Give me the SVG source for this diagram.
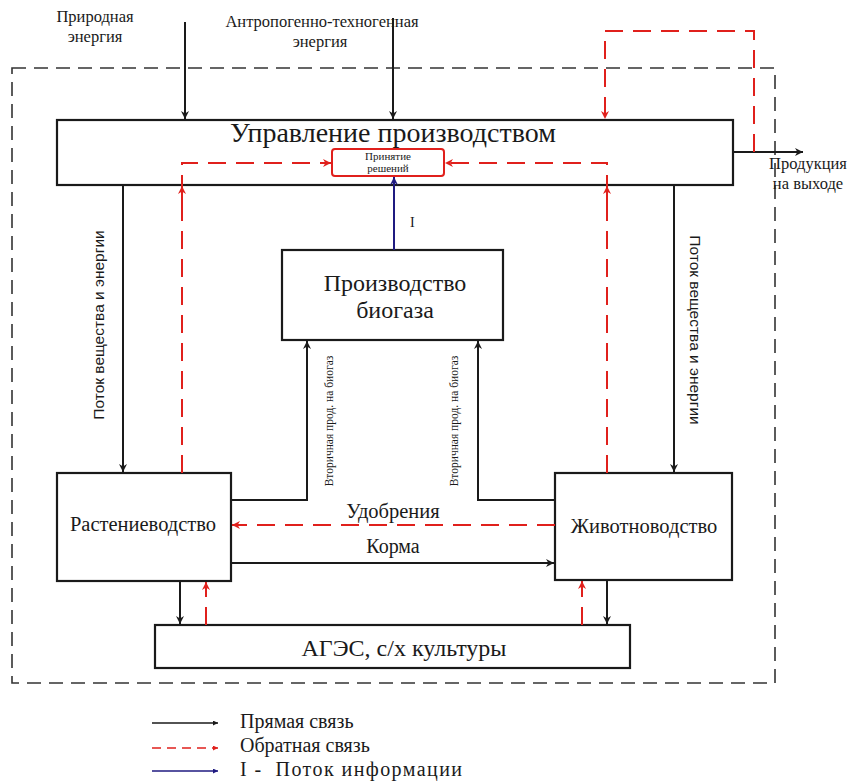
<svg xmlns="http://www.w3.org/2000/svg" width="851" height="783" viewBox="0 0 851 783">
<defs>
<style>
.box{fill:#fff;stroke:#1a1a1a;stroke-width:2.2}
.ln{fill:none;stroke:#1a1a1a;stroke-width:2}
.red{fill:none;stroke:#e0201c;stroke-width:2;stroke-dasharray:18,10}
.blue{fill:none;stroke:#1f1a80;stroke-width:2}
.outer{fill:none;stroke:#333;stroke-width:1.6;stroke-dasharray:14,8}
text.t{font-family:'Liberation Serif',serif;fill:#1a1a1a}
text.s{font-family:'Liberation Sans',sans-serif;fill:#1a1a1a}
</style>
<marker id="ab" viewBox="0 0 10 10" refX="10" refY="5" markerWidth="8" markerHeight="8" markerUnits="userSpaceOnUse" orient="auto"><path d="M0,0 L10,5 L0,10 L3,5 Z" fill="#1a1a1a"/></marker>
<marker id="ar" viewBox="0 0 10 10" refX="10" refY="5" markerWidth="8" markerHeight="8" markerUnits="userSpaceOnUse" orient="auto"><path d="M0,0 L10,5 L0,10 L3,5 Z" fill="#e0201c"/></marker>
<marker id="abl" viewBox="0 0 10 10" refX="10" refY="5" markerWidth="8" markerHeight="8" markerUnits="userSpaceOnUse" orient="auto"><path d="M0,0 L10,5 L0,10 L3,5 Z" fill="#1f1a80"/></marker>
<marker id="abs" viewBox="0 0 10 10" refX="10" refY="5" markerWidth="5" markerHeight="5" markerUnits="userSpaceOnUse" orient="auto"><path d="M0,0 L10,5 L0,10 Z" fill="#1a1a1a"/></marker>
<marker id="ars" viewBox="0 0 10 10" refX="10" refY="5" markerWidth="5" markerHeight="5" markerUnits="userSpaceOnUse" orient="auto"><path d="M0,0 L10,5 L0,10 Z" fill="#e0201c"/></marker>
<marker id="abls" viewBox="0 0 10 10" refX="10" refY="5" markerWidth="5" markerHeight="5" markerUnits="userSpaceOnUse" orient="auto"><path d="M0,0 L10,5 L0,10 Z" fill="#1f1a80"/></marker>
</defs>
<rect width="851" height="783" fill="#fff"/>
<rect class="outer" x="12" y="68" width="763" height="615"/>

<g id="inputs" font-size="16.5" text-anchor="middle">
<text class="t" style="font-family:'Liberation Serif',serif" x="95" y="22">Природная</text>
<text class="t" style="font-family:'Liberation Serif',serif" x="95" y="42">энергия</text>
<text class="t" style="font-family:'Liberation Serif',serif" x="322" y="27">Антропогенно-техногенная</text>
<text class="t" style="font-family:'Liberation Serif',serif" x="320" y="47">энергия</text>
</g>

<g id="management">
<rect class="box" x="57" y="120" width="676" height="65"/>
<text class="t" style="font-family:'Liberation Serif',serif" x="393" y="142" font-size="28" text-anchor="middle">Управление производством</text>
</g>
<g id="decision">
<rect x="332" y="149" width="112" height="27" rx="3" fill="#fff" stroke="#e0201c" stroke-width="2"/>
<text class="t" style="font-family:'Liberation Serif',serif" x="388" y="160" font-size="11" text-anchor="middle">Принятие</text>
<text class="t" style="font-family:'Liberation Serif',serif" x="388" y="172" font-size="11" text-anchor="middle">решений</text>
</g>
<g id="biogas">
<rect class="box" x="282" y="250" width="221" height="90"/>
<text class="t" style="font-family:'Liberation Serif',serif" x="395" y="291" font-size="24" text-anchor="middle">Производство</text>
<text class="t" style="font-family:'Liberation Serif',serif" x="395" y="318" font-size="24" text-anchor="middle">биогаза</text>
</g>
<g id="crop">
<rect class="box" x="57" y="473" width="174" height="108"/>
<text class="t" style="font-family:'Liberation Serif',serif" x="143" y="531" font-size="20.5" text-anchor="middle">Растениеводство</text>
</g>
<g id="livestock">
<rect class="box" x="555" y="473" width="177" height="107"/>
<text class="t" style="font-family:'Liberation Serif',serif" x="644" y="533" font-size="20.5" text-anchor="middle">Животноводство</text>
</g>
<g id="ages">
<rect class="box" x="155" y="625" width="475" height="43"/>
<text class="t" style="font-family:'Liberation Serif',serif" x="404" y="656" font-size="24" text-anchor="middle">АГЭС, с/х культуры</text>
</g>
<g id="output" font-size="16.5" text-anchor="middle">
<text class="t" style="font-family:'Liberation Serif',serif" x="808" y="169">Продукция</text>
<text class="t" style="font-family:'Liberation Serif',serif" x="808" y="189">на выходе</text>
</g>

<g id="connectors">
<line class="ln" x1="185" y1="22" x2="185" y2="119" marker-end="url(#ab)"/>
<line class="ln" x1="393" y1="18" x2="393" y2="119" marker-end="url(#ab)"/>
<line class="ln" x1="733" y1="152" x2="803" y2="152" marker-end="url(#ab)"/>
<path class="red" d="M754,152 V31 H605 V119" marker-end="url(#ar)"/>
<path class="red" d="M182,473 V163 H331" marker-end="url(#ar)"/>
<line class="red" x1="182" y1="210" x2="182" y2="186" stroke-dasharray="none" marker-end="url(#ar)"/>
<path class="red" d="M607,473 V163 H445" marker-end="url(#ar)"/>
<line class="red" x1="607" y1="210" x2="607" y2="186" stroke-dasharray="none" marker-end="url(#ar)"/>
<line class="blue" x1="394" y1="250" x2="394" y2="177" marker-end="url(#abl)"/>
<text class="t" style="font-family:'Liberation Serif',serif" x="410" y="227" font-size="14">I</text>
<line class="ln" x1="123" y1="185" x2="123" y2="472" marker-end="url(#ab)"/>
<text class="s" style="font-family:'Liberation Sans',sans-serif" transform="translate(104,325) rotate(-90)" font-size="15.5" text-anchor="middle">Поток вещества и энергии</text>
<line class="ln" x1="674" y1="185" x2="674" y2="472" marker-end="url(#ab)"/>
<text class="s" style="font-family:'Liberation Sans',sans-serif" transform="translate(690,330) rotate(90)" font-size="15.5" text-anchor="middle">Поток вещества и энергии</text>
<path class="ln" d="M231,500 H307 V341" marker-end="url(#ab)"/>
<text class="t" style="font-family:'Liberation Serif',serif" transform="translate(333,421) rotate(-90)" font-size="11.5" text-anchor="middle">Вторичная прод. на биогаз</text>
<path class="ln" d="M555,500 H478 V341" marker-end="url(#ab)"/>
<text class="t" style="font-family:'Liberation Serif',serif" transform="translate(458,421) rotate(-90)" font-size="11.5" text-anchor="middle">Вторичная прод. на биогаз</text>
<line class="red" x1="555" y1="525" x2="232" y2="525" marker-end="url(#ar)"/>
<text class="t" style="font-family:'Liberation Serif',serif" x="393" y="518" font-size="20.5" text-anchor="middle">Удобрения</text>
<line class="ln" x1="231" y1="563" x2="554" y2="563" marker-end="url(#ab)"/>
<text class="t" style="font-family:'Liberation Serif',serif" x="393" y="553" font-size="20" text-anchor="middle">Корма</text>
<line class="ln" x1="180" y1="581" x2="180" y2="624" marker-end="url(#ab)"/>
<line class="red" x1="206" y1="625" x2="206" y2="582" stroke-dasharray="8,6" marker-end="url(#ar)"/>
<line class="red" x1="582" y1="625" x2="582" y2="581" stroke-dasharray="8,6" marker-end="url(#ar)"/>
<line class="ln" x1="607" y1="580" x2="607" y2="624" marker-end="url(#ab)"/>
</g>

<g id="legend">
<line x1="152" y1="723" x2="218" y2="723" stroke="#1a1a1a" stroke-width="1.5" marker-end="url(#abs)"/>
<line x1="152" y1="748" x2="218" y2="748" stroke="#e0201c" stroke-width="1.5" stroke-dasharray="9,6" marker-end="url(#ars)"/>
<line x1="152" y1="771" x2="218" y2="771" stroke="#1f1a80" stroke-width="1.5" marker-end="url(#abls)"/>
<text class="t" style="font-family:'Liberation Serif',serif" x="240" y="728" font-size="20">Прямая связь</text>
<text class="t" style="font-family:'Liberation Serif',serif" x="240" y="752" font-size="20">Обратная связь</text>
<text class="t" style="font-family:'Liberation Serif',serif" x="240" y="776" font-size="20" textLength="222" lengthAdjust="spacing" xml:space="preserve">I -  Поток информации</text>
</g>
</svg>
